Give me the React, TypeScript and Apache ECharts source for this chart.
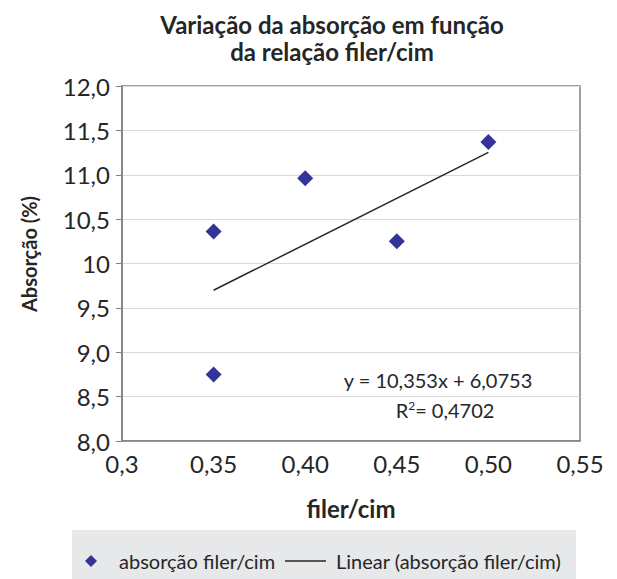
import React, { useEffect, useRef } from "react";
import * as echarts from "echarts";

const titleLines = ["Variação da absorção em função", "da relação filer/cim"];
const xValues = [0.35, 0.35, 0.4, 0.45, 0.5];
const yValues = [10.36, 8.75, 10.96, 10.25, 11.37];
const xTickLabels = ["0,3", "0,35", "0,40", "0,45", "0,50", "0,55"];
const yTickLabels = ["8,0", "8,5", "9,0", "9,5", "10", "10,5", "11,0", "11,5", "12,0"];
const trendSlope = 10.353;
const trendIntercept = 6.0753;
const trendX = [0.35, 0.5];
const equationText = "y = 10,353x + 6,0753";
const r2Text = "0,4702";
const seriesName = "absorção filer/cim";
const trendName = "Linear (absorção filer/cim)";
const xAxisName = "filer/cim";
const yAxisName = "Absorção (%)";

const FONT = "Lato";
const TXT = "#262626";

export default function App() {
  const ref = useRef<HTMLDivElement>(null);
  useEffect(() => {
    if (!ref.current) return;
    const chart = echarts.init(ref.current, undefined, { renderer: "svg" });
    const points = xValues.map((x, i) => [x, yValues[i]]);
    const trend = trendX.map((x) => [x, trendSlope * x + trendIntercept]);
    chart.setOption({
      animation: false,
      textStyle: { fontFamily: FONT, color: TXT },
      title: {
        text: titleLines.join("\n"),
        left: 327,
        top: 6,
        textAlign: "center",
        textStyle: { fontFamily: FONT, fontSize: 24, fontWeight: "bold", color: TXT, lineHeight: 27 },
      },
      grid: { left: 122, right: 37, top: 86, bottom: 138 },
      xAxis: {
        type: "value",
        min: 0.3,
        max: 0.55,
        interval: 0.05,
        name: xAxisName,
        nameLocation: "middle",
        nameGap: 55,
        nameTextStyle: { fontFamily: FONT, fontSize: 24, fontWeight: "bold", color: TXT },
        axisLine: { show: true, lineStyle: { color: "#808080", width: 1.5 } },
        axisTick: { show: false },
        splitLine: { show: false },
        axisLabel: {
          margin: 10,
          fontFamily: FONT,
          fontSize: 24,
          color: TXT,
          formatter: (v: number) => xTickLabels[Math.round((v - 0.3) / 0.05)] ?? "",
        },
      },
      yAxis: {
        type: "value",
        min: 8,
        max: 12,
        interval: 0.5,
        axisLine: { show: true, lineStyle: { color: "#808080", width: 1.5 } },
        axisTick: { show: true, inside: false, length: 6, lineStyle: { color: "#808080" } },
        splitLine: { show: true, lineStyle: { color: "#d9d9d9", width: 1 } },
        axisLabel: {
          margin: 12,
          fontFamily: FONT,
          fontSize: 24,
          color: TXT,
          formatter: (v: number) => yTickLabels[Math.round((v - 8) / 0.5)] ?? "",
        },
      },
      legend: [
        {
          left: 80,
          top: 546,
          itemWidth: 12,
          itemHeight: 12,
          textStyle: { fontFamily: FONT, fontSize: 20, color: TXT, rich: { g: { width: 17 } } },
          formatter: (name: string) => "{g|}" + name,
          data: [{ name: seriesName, icon: "path://M5,0 L10,5 L5,10 L0,5 Z" }],
        },
        {
          left: 280,
          top: 546,
          itemWidth: 41,
          itemHeight: 12,
          textStyle: { fontFamily: FONT, fontSize: 20, color: TXT, rich: { g: { width: 5 } } },
          formatter: (name: string) => "{g|}" + name,
          data: [{ name: trendName, icon: "path://M0,0 L40,0 L40,1.3 L0,1.3 Z" }],
        },
      ],
      graphic: [
        {
          type: "rect",
          z: -10,
          shape: { x: 72, y: 530, width: 504, height: 60 },
          style: { fill: "#e7e8ea" },
          silent: true,
        },
        {
          type: "rect",
          z: -10,
          shape: { x: 122, y: 86, width: 458, height: 355 },
          style: { fill: "none", stroke: "#808080", lineWidth: 1.5 },
          silent: true,
        },
        {
          type: "text",
          x: 29,
          y: 254,
          rotation: Math.PI / 2,
          style: {
            text: yAxisName,
            fontFamily: FONT,
            fontSize: 20,
            fontWeight: "bold",
            fill: TXT,
            align: "center",
            verticalAlign: "middle",
          },
        },
        {
          type: "text",
          x: 438,
          y: 380,
          style: {
            text: equationText,
            fontFamily: FONT,
            fontSize: 20,
            fill: TXT,
            align: "center",
            verticalAlign: "middle",
          },
        },
        {
          type: "text",
          x: 445,
          y: 410,
          style: {
            text: "R{sup|2}= " + r2Text,
            fontFamily: FONT,
            fontSize: 20,
            fill: TXT,
            align: "center",
            verticalAlign: "middle",
            rich: { sup: { fontSize: 12, verticalAlign: "top", padding: [0, 0, 10, 0], fontFamily: FONT, fill: TXT } },
          },
        },
      ],
      series: [
        {
          name: seriesName,
          type: "scatter",
          symbol: "diamond",
          symbolSize: 16,
          itemStyle: { color: "#333399", opacity: 1 },
          data: points,
          z: 3,
        },
        {
          name: trendName,
          type: "line",
          symbol: "none",
          lineStyle: { color: "#262626", width: 1.5 },
          itemStyle: { color: "#262626" },
          data: trend,
          z: 2,
        },
      ],
    });
    return () => chart.dispose();
  }, []);
  return <div ref={ref} style={{ width: 617, height: 579, position: "absolute", left: 0, top: 0 }} />;
}
